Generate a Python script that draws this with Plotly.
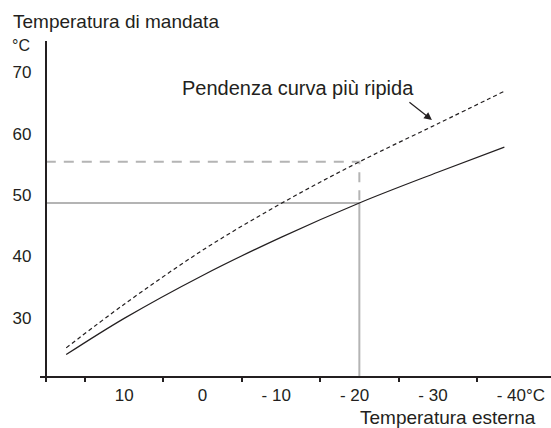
import plotly.graph_objects as go

# heating curve: outdoor temperature vs flow temperature
outdoor_temp = [17.4, 10, 0, -10, -20, -30, -38.5]
flow_normal = [24.0, 29.9, 36.9, 43.1, 48.7, 53.7, 57.8]
flow_steep = [25.1, 32.2, 41.0, 48.6, 55.4, 61.6, 66.9]

# reading guide at -20 °C outdoor
ref_outdoor = -20
ref_normal = 48.7
ref_steep = 55.4

# axes
x_label_vals = [10, 0, -10, -20, -30, -40]
x_label_text = ["10", "0", "- 10\u00a0\u00a0", "- 20\u00a0\u00a0", "- 30\u00a0\u00a0", "\u00a0\u00a0- 40°C"]
x_tick_marks = [15, 5, -5, -15, -25, -35]
y_label_vals = [30, 40, 50, 60, 70]
x_origin = 20      # outdoor temp where the y axis sits
y_origin = 20.36   # flow temp where the x axis sits
x_range = [20.74, -44.45]
y_range = [19.54, 75.08]

INK = "#231f20"
GREY = "#b4b4b4"
FONT = "Liberation Sans, Arial, sans-serif"

fig = go.Figure()

# grey guide lines
fig.add_trace(go.Scatter(
    x=[x_origin, ref_outdoor, ref_outdoor],
    y=[ref_steep, ref_steep, ref_normal],
    mode="lines", line=dict(color=GREY, width=2, dash="10px,8px"),
    hoverinfo="skip"
))
fig.add_trace(go.Scatter(
    x=[x_origin, ref_outdoor, ref_outdoor],
    y=[ref_normal, ref_normal, y_origin],
    mode="lines", line=dict(color=GREY, width=2),
    hoverinfo="skip"
))

# curves
fig.add_trace(go.Scatter(
    x=outdoor_temp, y=flow_steep, mode="lines",
    line=dict(color=INK, width=1.2, dash="4px,3px", shape="spline")
))
fig.add_trace(go.Scatter(
    x=outdoor_temp, y=flow_normal, mode="lines",
    line=dict(color=INK, width=1.2, shape="spline")
))

fig.update_layout(
    width=551, height=428,
    margin=dict(l=40, r=0, t=41, b=46),
    paper_bgcolor="white", plot_bgcolor="white",
    showlegend=False,
    font=dict(family=FONT, color=INK, size=17),
    xaxis=dict(
        range=x_range, anchor="free",
        position=(y_origin - y_range[0]) / (y_range[1] - y_range[0]),
        showline=True, linecolor=INK, linewidth=2,
        showgrid=False, zeroline=False,
        tickmode="array", tickvals=x_label_vals, ticktext=x_label_text,
        ticks="", tickfont=dict(size=17), ticklabelstandoff=3,
        minor=dict(tickmode="array", tickvals=x_tick_marks, ticks="outside",
                   ticklen=4, tickwidth=1.5, tickcolor=INK, showgrid=False),
    ),
    yaxis=dict(
        range=y_range, anchor="free",
        position=(x_origin - x_range[0]) / (x_range[1] - x_range[0]),
        showline=True, linecolor=INK, linewidth=2,
        showgrid=False, zeroline=False,
        tickmode="array", tickvals=y_label_vals,
        ticks="", tickfont=dict(size=17), ticklabelstandoff=10,
    ),
)

fig.add_annotation(text="Temperatura di mandata", xref="paper", yref="paper",
                   x=-0.0573, y=1.0566, xanchor="left", yanchor="middle",
                   showarrow=False, font=dict(size=19))
fig.add_annotation(text="°C", xref="paper", yref="paper",
                   x=-0.0157, y=0.9862, xanchor="right", yanchor="middle",
                   showarrow=False, font=dict(size=16))
fig.add_annotation(text="Temperatura esterna", xref="paper", yref="paper",
                   x=0.6223, y=-0.1041, xanchor="left", yanchor="middle",
                   showarrow=False, font=dict(size=19))

# label with arrow pointing at the steeper curve
fig.add_annotation(text="Pendenza curva più ripida", x=-12.17, y=67.4,
                   xanchor="center", yanchor="middle",
                   showarrow=False, font=dict(size=20))
fig.add_annotation(text="", x=-29.26, y=62.2, ax=-24, ay=-19,
                   showarrow=True, arrowhead=2, arrowsize=1.3,
                   arrowwidth=1.2, arrowcolor=INK)

fig.write_html("out.html", config={"displayModeBar": False},
               post_script="document.body.style.margin='0';")
